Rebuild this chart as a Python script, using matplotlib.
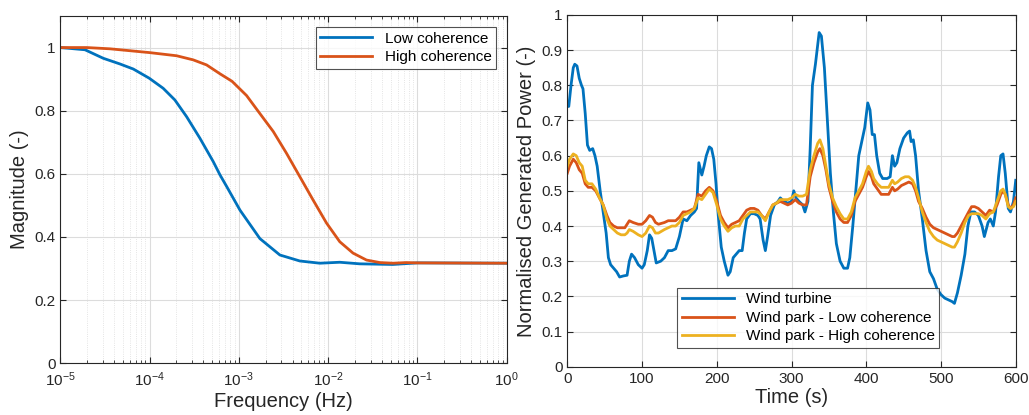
import numpy as np
import matplotlib
matplotlib.use("Agg")
import matplotlib.pyplot as plt
from matplotlib.ticker import LogLocator

plt.rcParams['font.family'] = ['Liberation Sans', 'DejaVu Sans']
plt.rcParams['mathtext.fontset'] = 'custom'
plt.rcParams['mathtext.rm'] = 'Liberation Sans'
plt.rcParams['mathtext.it'] = 'Liberation Sans'
plt.rcParams['mathtext.default'] = 'regular'

#── data: coherence transfer magnitude ───────────────────────────────────────
freq_low = [1e-5, 1.89e-5, 3.03e-5, 4.66e-5, 6.57e-5, 9.9e-5, 1.42e-4, 1.92e-4, 2.6e-4,
            3.66e-4, 5.16e-4, 6.14e-4, 7.3e-4, 1.03e-3, 1.72e-3, 2.88e-3, 4.82e-3,
            8.07e-3, 1.35e-2, 2.26e-2, 5.3e-2, 1e-1, 1.0]
mag_low = [1.0, 0.993, 0.966, 0.948, 0.932, 0.903, 0.871, 0.834, 0.781,
           0.713, 0.639, 0.597, 0.56, 0.485, 0.395, 0.343, 0.324,
           0.317, 0.32, 0.315, 0.313, 0.318, 0.317]

freq_high = [1e-5, 1.98e-5, 3.6e-5, 1e-4, 2.01e-4, 3.08e-4, 4.35e-4, 6.14e-4, 8.4e-4,
             1.22e-3, 1.58e-3, 2.43e-3, 3.42e-3, 4.82e-3, 6.79e-3, 9.6e-3, 1.35e-2,
             1.9e-2, 2.69e-2, 3.8e-2, 5.35e-2, 7.5e-2, 1e-1, 1.0]
mag_high = [1.0, 1.0, 0.996, 0.984, 0.974, 0.961, 0.945, 0.917, 0.893,
            0.848, 0.805, 0.734, 0.665, 0.591, 0.517, 0.444, 0.385,
            0.349, 0.327, 0.319, 0.317, 0.319, 0.318, 0.317]

#── data: normalised power time series ───────────────────────────────────────
t_turbine = [0, 2, 5, 8, 10, 13, 16, 19, 21, 24, 27, 30, 34, 37, 40, 44, 48, 52, 55, 58,
             62, 66, 70, 75, 80, 83, 86, 90, 95, 100, 103, 107, 110, 113, 116, 119, 125,
             130, 135, 140, 145, 150, 155, 160, 165, 170, 173, 176, 180, 183, 186, 190,
             193, 196, 199, 202, 206, 210, 215, 218, 222, 226, 230, 234, 237, 240, 245,
             250, 255, 258, 262, 265, 268, 272, 277, 282, 285, 290, 295, 300, 303, 306,
             310, 315, 318, 322, 325, 328, 332, 337, 340, 344, 348, 352, 356, 360, 365,
             370, 375, 378, 382, 386, 390, 394, 398, 402, 405, 408, 411, 414, 418, 422,
             428, 432, 435, 438, 441, 445, 450, 455, 458, 460, 463, 466, 470, 475, 480,
             485, 490, 495, 500, 505, 510, 515, 518, 522, 527, 532, 536, 540, 545, 550,
             555, 558, 563, 566, 570, 573, 577, 580, 583, 586, 590, 593, 597, 600]
p_turbine = [0.74, 0.74, 0.80, 0.85, 0.86, 0.855, 0.82, 0.80, 0.79, 0.72, 0.63, 0.615,
             0.62, 0.60, 0.57, 0.50, 0.44, 0.38, 0.31, 0.29, 0.28, 0.27, 0.255, 0.258,
             0.26, 0.30, 0.32, 0.31, 0.29, 0.28, 0.29, 0.33, 0.375, 0.365, 0.33, 0.295,
             0.30, 0.31, 0.33, 0.33, 0.335, 0.37, 0.42, 0.415, 0.43, 0.44, 0.45, 0.58,
             0.545, 0.57, 0.60, 0.625, 0.62, 0.59, 0.52, 0.43, 0.34, 0.30, 0.26, 0.27,
             0.31, 0.32, 0.33, 0.33, 0.38, 0.42, 0.435, 0.435, 0.43, 0.42, 0.36, 0.33,
             0.37, 0.43, 0.46, 0.47, 0.48, 0.47, 0.465, 0.47, 0.50, 0.48, 0.47, 0.46,
             0.44, 0.47, 0.62, 0.80, 0.86, 0.95, 0.94, 0.85, 0.70, 0.55, 0.44, 0.35,
             0.30, 0.28, 0.28, 0.31, 0.40, 0.50, 0.60, 0.64, 0.68, 0.75, 0.73, 0.66,
             0.66, 0.60, 0.55, 0.535, 0.535, 0.54, 0.60, 0.57, 0.58, 0.62, 0.65, 0.665,
             0.67, 0.64, 0.645, 0.60, 0.50, 0.42, 0.33, 0.27, 0.25, 0.22, 0.205, 0.195,
             0.19, 0.185, 0.18, 0.21, 0.26, 0.32, 0.40, 0.44, 0.44, 0.43, 0.40, 0.37,
             0.41, 0.42, 0.40, 0.44, 0.54, 0.60, 0.605, 0.55, 0.45, 0.44, 0.47, 0.53]

t_park = [0, 3, 8, 12, 16, 20, 24, 28, 33, 38, 43, 48, 53, 57, 62, 67, 72, 77, 80, 83,
          88, 95, 100, 105, 110, 114, 118, 122, 130, 135, 140, 145, 150, 155, 160, 165,
          170, 175, 180, 185, 190, 195, 200, 205, 210, 215, 220, 225, 230, 235, 240, 245,
          250, 255, 260, 265, 270, 275, 280, 285, 290, 295, 300, 305, 310, 315, 320, 325,
          330, 335, 338, 342, 346, 350, 355, 360, 365, 370, 375, 380, 385, 390, 395, 400,
          403, 407, 410, 415, 420, 425, 430, 435, 438, 442, 447, 452, 457, 462, 466, 470,
          475, 480, 485, 490, 495, 500, 505, 510, 515, 518, 522, 527, 532, 537, 541, 545,
          550, 555, 560, 565, 570, 575, 580, 583, 586, 590, 593, 597, 600]
p_park_low = [0.55, 0.57, 0.59, 0.58, 0.56, 0.55, 0.52, 0.51, 0.51, 0.50, 0.48, 0.46,
              0.43, 0.41, 0.40, 0.395, 0.395, 0.395, 0.405, 0.415, 0.41, 0.405, 0.405,
              0.415, 0.43, 0.425, 0.41, 0.405, 0.41, 0.415, 0.415, 0.415, 0.425, 0.44,
              0.44, 0.445, 0.45, 0.49, 0.485, 0.50, 0.51, 0.50, 0.47, 0.43, 0.41, 0.395,
              0.405, 0.41, 0.415, 0.43, 0.445, 0.45, 0.45, 0.445, 0.43, 0.42, 0.44, 0.46,
              0.465, 0.47, 0.465, 0.46, 0.465, 0.475, 0.465, 0.46, 0.46, 0.54, 0.58,
              0.61, 0.62, 0.60, 0.56, 0.51, 0.47, 0.44, 0.42, 0.41, 0.41, 0.43, 0.47,
              0.49, 0.51, 0.54, 0.555, 0.54, 0.52, 0.505, 0.49, 0.49, 0.49, 0.51, 0.50,
              0.505, 0.515, 0.52, 0.525, 0.52, 0.50, 0.47, 0.45, 0.425, 0.405, 0.395,
              0.39, 0.385, 0.38, 0.375, 0.37, 0.37, 0.38, 0.40, 0.42, 0.44, 0.455,
              0.455, 0.45, 0.44, 0.43, 0.445, 0.44, 0.46, 0.49, 0.50, 0.49, 0.46, 0.45,
              0.46, 0.48]
p_park_high = [0.57, 0.59, 0.605, 0.60, 0.58, 0.57, 0.53, 0.52, 0.52, 0.505, 0.48, 0.46,
               0.42, 0.40, 0.39, 0.38, 0.375, 0.375, 0.38, 0.39, 0.385, 0.375, 0.37,
               0.38, 0.40, 0.395, 0.38, 0.38, 0.39, 0.395, 0.40, 0.40, 0.41, 0.43,
               0.435, 0.44, 0.45, 0.48, 0.475, 0.49, 0.505, 0.495, 0.46, 0.42, 0.40,
               0.385, 0.395, 0.40, 0.40, 0.42, 0.43, 0.44, 0.44, 0.44, 0.43, 0.415,
               0.44, 0.46, 0.465, 0.475, 0.475, 0.475, 0.48, 0.49, 0.485, 0.485, 0.49,
               0.56, 0.60, 0.635, 0.645, 0.62, 0.57, 0.52, 0.48, 0.455, 0.435, 0.42,
               0.42, 0.44, 0.48, 0.50, 0.52, 0.555, 0.57, 0.555, 0.535, 0.52, 0.51,
               0.51, 0.51, 0.53, 0.52, 0.525, 0.535, 0.54, 0.54, 0.53, 0.51, 0.48, 0.44,
               0.41, 0.385, 0.37, 0.36, 0.355, 0.35, 0.345, 0.34, 0.34, 0.355, 0.38,
               0.41, 0.43, 0.435, 0.435, 0.435, 0.43, 0.42, 0.435, 0.44, 0.47, 0.50,
               0.505, 0.49, 0.455, 0.45, 0.455, 0.47]

BLUE, ORANGE, YELLOW = "#0072BD", "#D95319", "#EDB120"
DARK = "#262626"
GRID = "#dcdcdc"


def style_axes(ax):
    for s in ax.spines.values():
        s.set_color(DARK)
        s.set_linewidth(0.8)
    ax.tick_params(which="both", direction="in", top=True, right=True,
                   colors=DARK, labelsize=11, length=4)
    ax.tick_params(which="minor", length=2)
    ax.grid(True, which="major", color=GRID, linewidth=0.8)
    ax.set_axisbelow(True)


fig = plt.figure(figsize=(10.29, 4.15), dpi=100)

#── left: magnitude vs frequency ────────────────────────────────────────────
ax1 = fig.add_axes([0.0586, 0.1246, 0.4338, 0.8369])
ax1.semilogx(freq_low, mag_low, color=BLUE, lw=2, label="Low coherence")
ax1.semilogx(freq_high, mag_high, color=ORANGE, lw=2, label="High coherence")
ax1.set_xlim(1e-5, 1)
ax1.set_ylim(0, 1.1)
ax1.set_yticks([0, 0.2, 0.4, 0.6, 0.8, 1])
ax1.set_yticklabels(["0", "0.2", "0.4", "0.6", "0.8", "1"])
ax1.xaxis.set_major_locator(LogLocator(base=10, numticks=10))
ax1.xaxis.set_minor_locator(LogLocator(base=10, subs=np.arange(2, 10), numticks=20))
style_axes(ax1)
ax1.tick_params(axis="x", pad=5)
ax1.grid(True, which="minor", axis="x", color=GRID, linewidth=0.6, linestyle=":")
ax1.set_xlabel("Frequency (Hz)", fontsize=14.5, color=DARK, labelpad=2)
ax1.set_ylabel("Magnitude (-)", fontsize=14.5, color=DARK)
leg1 = ax1.legend(loc="upper right", bbox_to_anchor=(0.976, 0.968), fontsize=11,
                  frameon=True, fancybox=False, borderpad=0.3, handlelength=3.4,
                  labelspacing=0.3, borderaxespad=0)
leg1.get_frame().set_edgecolor(DARK)
leg1.get_frame().set_linewidth(0.8)

#── right: normalised power vs time ─────────────────────────────────────────
ax2 = fig.add_axes([0.5513, 0.1164, 0.4358, 0.8475])
ax2.plot(t_turbine, p_turbine, color=BLUE, lw=2, label="Wind turbine")
ax2.plot(t_park, p_park_low, color=ORANGE, lw=2, label="Wind park - Low coherence")
ax2.plot(t_park, p_park_high, color=YELLOW, lw=2, label="Wind park - High coherence")
ax2.set_xlim(0, 600)
ax2.set_ylim(0, 1)
ax2.set_xticks(range(0, 601, 100))
yt = np.round(np.arange(0, 1.01, 0.1), 1)
ax2.set_yticks(yt)
ax2.set_yticklabels(["0"] + [f"{v:g}" for v in yt[1:-1]] + ["1"])
style_axes(ax2)
ax2.set_xlabel("Time (s)", fontsize=14.5, color=DARK, labelpad=2)
ax2.set_ylabel("Normalised Generated Power (-)", fontsize=14.5, color=DARK)
leg2 = ax2.legend(loc="lower left", bbox_to_anchor=(0.245, 0.053), fontsize=11,
                  frameon=True, fancybox=False, borderpad=0.3, handlelength=3.4,
                  labelspacing=0.3, borderaxespad=0)
leg2.get_frame().set_edgecolor(DARK)
leg2.get_frame().set_linewidth(0.8)

fig.savefig("out.png", dpi=100)
